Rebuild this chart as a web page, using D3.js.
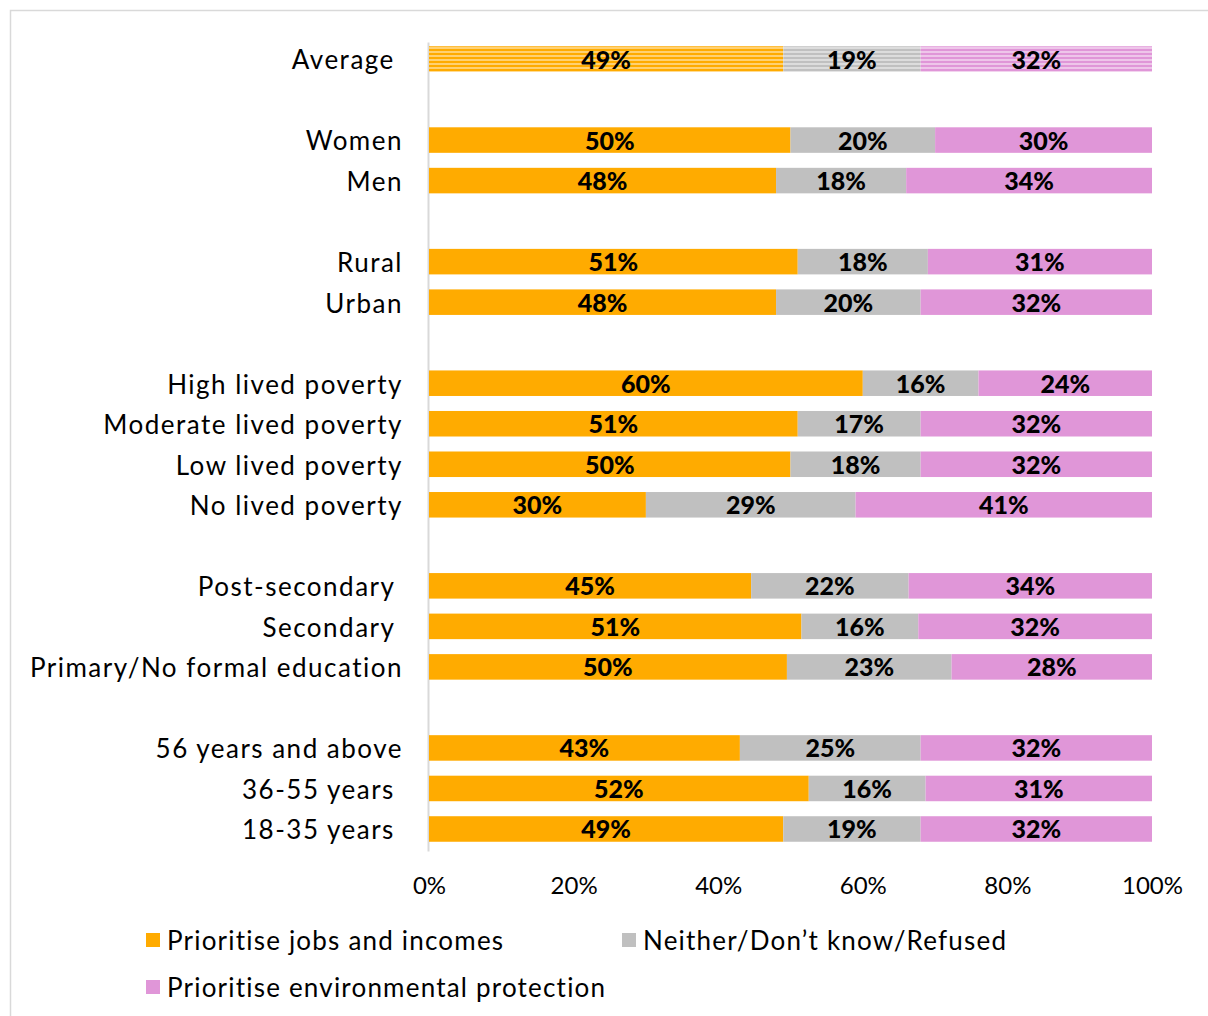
<!DOCTYPE html>
<html>
<head>
<meta charset="utf-8">
<script src="https://cdn.jsdelivr.net/npm/d3@7"></script>
<style>
  html, body { margin: 0; padding: 0; background: #fff; }
  svg text { font-family: Lato, "Open Sans", sans-serif; }
</style>
</head>
<body>
<svg id="chart" width="1208" height="1016"></svg>
<script>
// Survey groups, top to bottom (trailing spaces are part of the labels)
const categories = [
  "Average ",
  "Women", "Men",
  "Rural", "Urban",
  "High lived poverty", "Moderate lived poverty", "Low lived poverty", "No lived poverty",
  "Post-secondary ", "Secondary ", "Primary/No formal education",
  "56 years and above", "36-55 years ", "18-35 years "
];
// Number of rows in each block; a blank slot separates blocks
const groupSizes = [1, 2, 2, 4, 3, 3];

const jobs        = [49, 50, 48, 51, 48, 60, 51, 50, 30, 45, 51, 50, 43, 52, 49];
const neither     = [19, 20, 18, 18, 20, 16, 17, 18, 29, 22, 16, 23, 25, 16, 19];
const environment = [32, 30, 34, 31, 32, 24, 32, 32, 41, 34, 32, 28, 32, 31, 32];

const seriesNames = ["Prioritise jobs and incomes", "Neither/Don\u2019t know/Refused", "Prioritise environmental protection"];
const seriesColors = ["#FFAB00", "#C0C0C0", "#E096D8"];
const tickValues = [0, 0.2, 0.4, 0.6, 0.8, 1];

const svg = d3.select("#chart");

// Outer frame
svg.append("rect")
  .attr("x", 10.5).attr("y", 10.5)
  .attr("width", 1400).attr("height", 1200)
  .attr("fill", "none").attr("stroke", "#d9d9d9").attr("stroke-width", 1.5);

// Slot index of each row, leaving an empty slot between blocks
const slots = [];
{
  let s = 0;
  groupSizes.forEach(n => {
    for (let k = 0; k < n; k++) slots.push(s++);
    s++;
  });
}
const nSlots = slots[slots.length - 1] + 1;

const x = d3.scaleLinear().domain([0, 1]).range([429, 1152]);
const y = d3.scaleBand().domain(d3.range(nSlots))
  .range([38.75, 849.25]).paddingInner(0.37).paddingOuter(0.185);

// Striped fills for the Average row
const defs = svg.append("defs");
seriesColors.forEach((c, i) => {
  const p = defs.append("pattern")
    .attr("id", "stripe" + i)
    .attr("patternUnits", "userSpaceOnUse")
    .attr("width", 8).attr("height", 4)
    .attr("y", y(0));
  p.append("rect").attr("width", 8).attr("height", 4).attr("fill", c);
  p.append("rect").attr("y", 3).attr("width", 8).attr("height", 1).attr("fill", "#ffffff").attr("opacity", 0.9);
});

const rows = categories.map((name, i) => {
  const vals = [jobs[i], neither[i], environment[i]];
  const total = d3.sum(vals);
  let acc = 0;
  const segs = vals.map((v, k) => {
    const s = { k, v, x0: acc / total, x1: (acc + v) / total };
    acc += v;
    return s;
  });
  return { name, i, slot: slots[i], segs };
});

// Vertical baseline
svg.append("g")
  .attr("transform", `translate(${x(0) - 1},0)`)
  .call(d3.axisLeft(d3.scaleLinear().range([42, 851])).ticks(0).tickSize(0).tickFormat(""))
  .call(g => g.select(".domain").attr("stroke", "#d9d9d9").attr("stroke-width", 2));

// Bars
const rowG = svg.append("g").selectAll("g").data(rows).join("g")
  .attr("transform", d => `translate(0,${y(d.slot)})`);

rowG.selectAll("rect").data(d => d.segs.map(s => ({ ...s, avg: d.i === 0 }))).join("rect")
  .attr("x", s => x(s.x0))
  .attr("width", s => x(s.x1) - x(s.x0))
  .attr("y", 0)
  .attr("height", y.bandwidth())
  .attr("fill", s => s.avg ? `url(#stripe${s.k})` : seriesColors[s.k]);

// Value labels
rowG.selectAll("text.val").data(d => d.segs).join("text")
  .attr("class", "val")
  .attr("x", s => (x(s.x0) + x(s.x1)) / 2)
  .attr("y", y.bandwidth() / 2)
  .attr("dy", "0.38em")
  .attr("text-anchor", "middle")
  .attr("font-size", 25)
  .attr("font-weight", 900)
  .attr("fill", "#000")
  .text(s => s.v + "%");

// Category labels
svg.append("g").selectAll("text").data(rows).join("text")
  .attr("x", 403)
  .attr("y", d => y(d.slot) + y.bandwidth() / 2 + 1)
  .attr("dy", "0.36em")
  .attr("text-anchor", "end")
  .attr("font-size", 26)
  .attr("letter-spacing", 1.5)
  .attr("fill", "#000")
  .style("white-space", "pre")
  .text(d => d.name);

// Percentage axis
svg.append("g")
  .attr("transform", "translate(0,868)")
  .call(d3.axisBottom(x).tickValues(tickValues).tickSize(0).tickFormat(d3.format(".0%")))
  .call(g => g.select(".domain").remove())
  .call(g => g.selectAll("text")
    .attr("font-size", 24)
    .attr("font-family", "Lato, sans-serif")
    .attr("fill", "#000")
    .attr("dy", "0.95em"));

// Legend
const legendItems = [
  { k: 0, x: 146, y: 940 },
  { k: 1, x: 622, y: 940 },
  { k: 2, x: 146, y: 987 }
];
const lg = svg.append("g").selectAll("g").data(legendItems).join("g")
  .attr("transform", d => `translate(${d.x},${d.y})`);
lg.append("rect").attr("x", 0).attr("y", -7).attr("width", 14).attr("height", 14)
  .attr("fill", d => seriesColors[d.k]);
lg.append("text").attr("x", 21).attr("y", 1).attr("dy", "0.36em")
  .attr("font-size", 26).attr("letter-spacing", 1.2).attr("fill", "#000")
  .text(d => seriesNames[d.k]);
</script>
</body>
</html>
